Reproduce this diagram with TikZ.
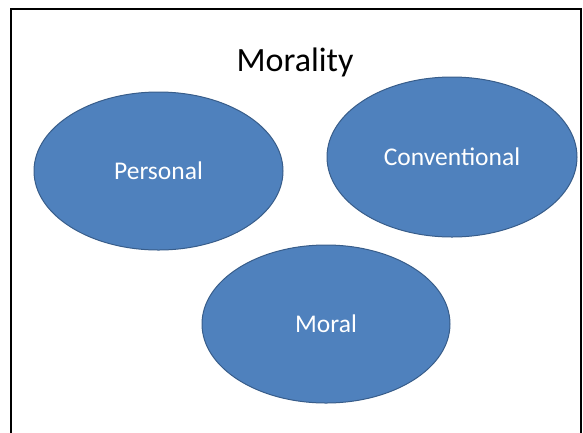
\documentclass[tikz,border=0pt]{standalone}
\usepackage{fontspec}
\setmainfont{Carlito}
\usepackage{xcolor}
\usetikzlibrary{shapes,positioning}
\definecolor{officeblue}{HTML}{4F81BD}
\definecolor{officeedge}{HTML}{385D8A}
\tikzset{
	areanode/.style = {ellipse, draw=officeedge, fill=officeblue, line width=1pt,
		inner sep=0pt, text=white,
		font=\fontsize{25.5}{30}\selectfont},
}
\begin{document}
\begin{tikzpicture}[
	x=1pt, y=-1pt,
	titlenode/.style={inner sep=0pt, font=\fontsize{34}{41}\selectfont},
	]
	\useasboundingbox (0,0) rectangle (583,432);
	%Frame
	\draw[line width=2pt] (11,9) rectangle (581,445);
	%Nodes
	\node[titlenode, anchor=base]                              (morality)     at (295,71)   {Morality};
	\node[areanode, minimum width=249pt, minimum height=158pt] (personal)     at (158.5,171) {Personal};
	\node[areanode, minimum width=250pt, minimum height=160pt] (conventional) at (452,157)   {Conventional};
	\node[areanode, minimum width=248pt, minimum height=158pt] (moral)        at (326,324)   {Moral};
\end{tikzpicture}
\end{document}
